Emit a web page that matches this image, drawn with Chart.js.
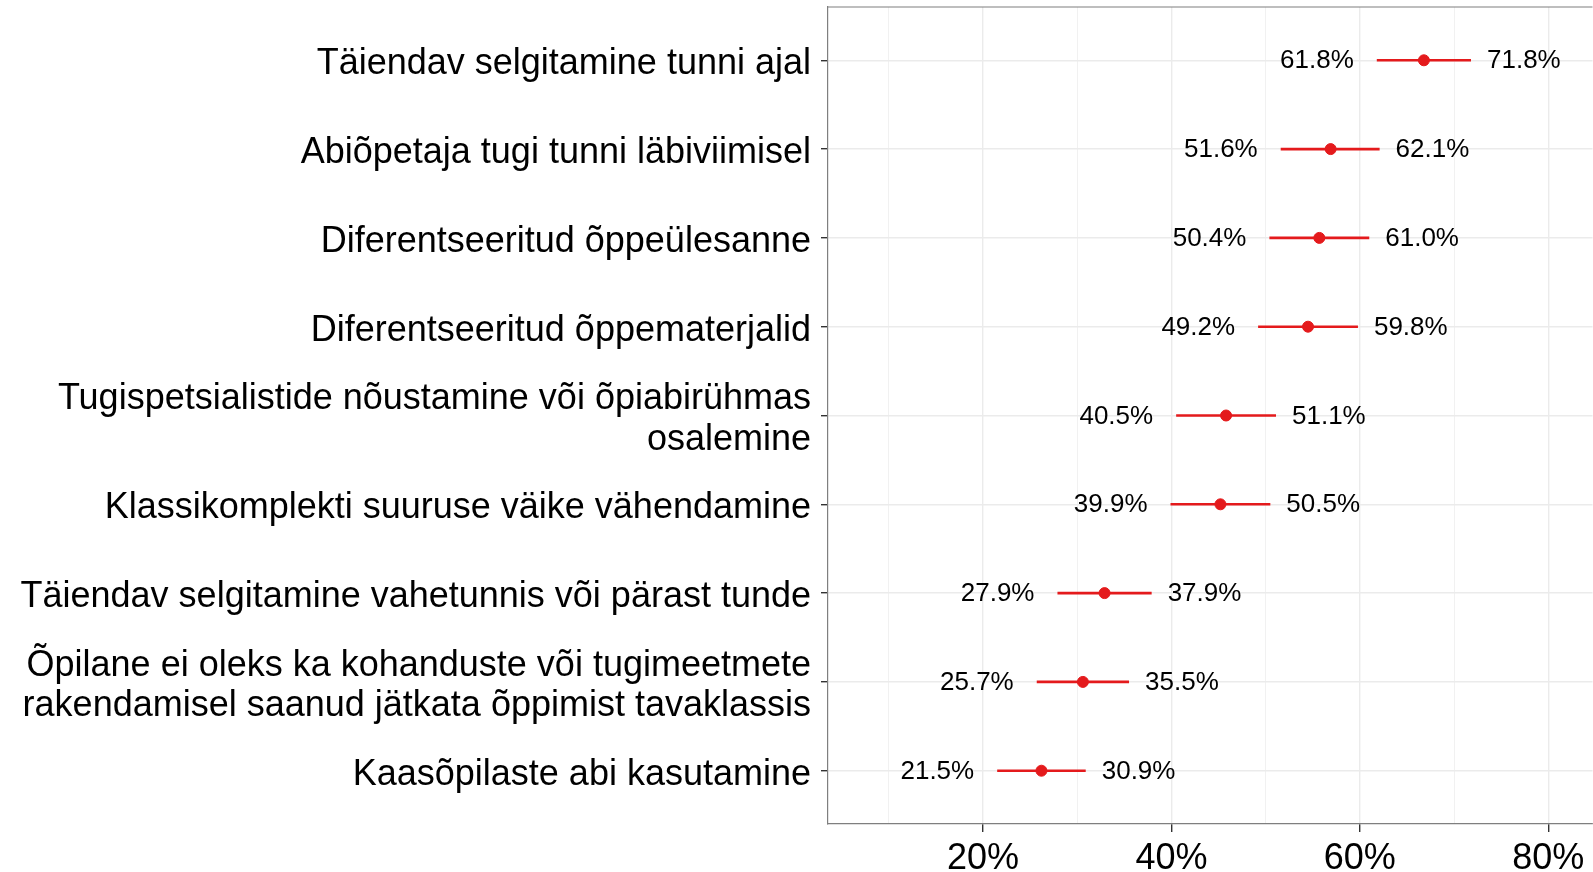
<!DOCTYPE html>
<html>
<head>
<meta charset="utf-8">
<script src="https://cdn.jsdelivr.net/npm/chart.js@4"></script>
<style>
  html, body { margin: 0; background: #fff; overflow: hidden; }
  #wrap { width: 1599px; height: 872px; }
</style>
</head>
<body>
<div id="wrap"><canvas id="chart"></canvas></div>
<script>
const categories = [
  "Täiendav selgitamine tunni ajal",
  "Abiõpetaja tugi tunni läbiviimisel",
  "Diferentseeritud õppeülesanne",
  "Diferentseeritud õppematerjalid",
  ["Tugispetsialistide nõustamine või õpiabirühmas", "osalemine"],
  "Klassikomplekti suuruse väike vähendamine",
  "Täiendav selgitamine vahetunnis või pärast tunde",
  ["Õpilane ei oleks ka kohanduste või tugimeetmete", "rakendamisel saanud jätkata õppimist tavaklassis"],
  "Kaasõpilaste abi kasutamine",
];
const lower = [61.8, 51.6, 50.4, 49.2, 40.5, 39.9, 27.9, 25.7, 21.5];
const upper = [71.8, 62.1, 61.0, 59.8, 51.1, 50.5, 37.9, 35.5, 30.9];
const estimate = [66.8, 56.9, 55.7, 54.5, 45.8, 45.2, 32.9, 30.6, 26.2];
const xTicks = [10, 20, 30, 40, 50, 60, 70, 80];
const xTickLabels = ["", "20%", "", "40%", "", "60%", "", "80%"];

const RED = "#e41a1c";
const FONT = "'Liberation Sans', Arial, sans-serif";
const isMajor = (v) => v % 20 === 0;

// one line per row for the interval, plus the point estimates
const datasets = categories.map((c, i) => ({
  data: [{ x: lower[i], y: i + 1 }, { x: upper[i], y: i + 1 }],
  showLine: true,
  borderColor: RED,
  borderWidth: 2.6,
  borderCapStyle: "butt",
  pointRadius: 0,
}));
datasets.push({
  data: estimate.map((v, i) => ({ x: v, y: i + 1 })),
  backgroundColor: RED,
  borderColor: RED,
  pointRadius: 5.5,
});

const valueLabels = {
  id: "valueLabels",
  afterDatasetsDraw(chart) {
    const { ctx, scales: { x, y } } = chart;
    ctx.save();
    ctx.font = `26px ${FONT}`;
    ctx.fillStyle = "#000";
    ctx.textBaseline = "middle";
    lower.forEach((v, i) => {
      const py = y.getPixelForValue(i + 1) + 1;
      ctx.textAlign = "right";
      ctx.fillText(v.toFixed(1) + "%", x.getPixelForValue(v) - 23, py);
      ctx.textAlign = "left";
      ctx.fillText(upper[i].toFixed(1) + "%", x.getPixelForValue(upper[i]) + 16, py);
    });
    ctx.restore();
  },
};

const topBorder = {
  id: "topBorder",
  afterDraw(chart) {
    const { ctx, chartArea: a } = chart;
    ctx.save();
    ctx.strokeStyle = "#7f7f7f";
    ctx.lineWidth = 1.2;
    ctx.beginPath();
    ctx.moveTo(a.left, a.top);
    ctx.lineTo(a.right, a.top);
    ctx.stroke();
    ctx.restore();
  },
};

new Chart(document.getElementById("chart"), {
  type: "scatter",
  data: { datasets },
  plugins: [valueLabels, topBorder],
  options: {
    animation: false,
    responsive: true,
    maintainAspectRatio: false,
    layout: { padding: { top: 7, right: 0, bottom: 0, left: 0 } },
    plugins: { legend: { display: false }, tooltip: { enabled: false } },
    scales: {
      x: {
        type: "linear",
        min: 3.54,
        max: 84.7,
        afterBuildTicks: (s) => { s.ticks = xTicks.map((v) => ({ value: v })); },
        afterFit: (s) => {
          s.height = 48;
          s.paddingLeft = 0;
          s.paddingRight = 0;
        },
        ticks: {
          callback: (v) => xTickLabels[xTicks.indexOf(v)],
          font: { family: FONT, size: 36 },
          color: "#000",
          padding: 5,
          maxRotation: 0,
          autoSkip: false,
        },
        grid: {
          color: "#ebebeb",
          lineWidth: (ctx) => (ctx.tick && isMajor(ctx.tick.value) ? 1.4 : 0.7),
          tickColor: (ctx) => (ctx.tick && isMajor(ctx.tick.value) ? "#333" : "rgba(0,0,0,0)"),
          tickLength: 8,
        },
        border: { color: "#7f7f7f", width: 1.2 },
      },
      y: {
        type: "linear",
        reverse: true,
        min: 0.4,
        max: 9.6,
        afterBuildTicks: (s) => { s.ticks = categories.map((c, i) => ({ value: i + 1 })); },
        afterFit: (s) => {
          s.width = 828;
          s.paddingTop = 0;
          s.paddingBottom = 0;
        },
        ticks: {
          callback: (v) => categories[v - 1],
          font: { family: FONT, size: 36, lineHeight: 1.12 },
          color: "#000",
          padding: 10,
          labelOffset: 4,
          autoSkip: false,
        },
        grid: {
          color: "#ebebeb",
          lineWidth: 1.4,
          tickColor: "#333",
          tickLength: 7,
        },
        border: { color: "#7f7f7f", width: 1.2 },
      },
    },
  },
});
</script>
</body>
</html>
